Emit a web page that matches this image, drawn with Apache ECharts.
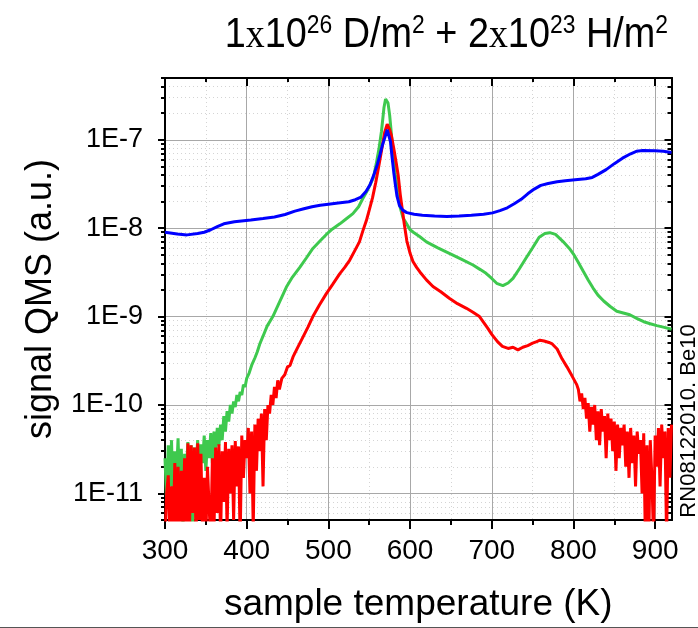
<!DOCTYPE html>
<html><head><meta charset="utf-8">
<script src="https://cdn.jsdelivr.net/npm/echarts@6/dist/echarts.min.js"></script>
<style>html,body{margin:0;padding:0;background:#fff}#c{width:698px;height:628px}</style>
</head><body><div id="c"></div>
<script>
// ---- data (temperature K, QMS signal a.u.) ----
const blueTemps = [300,315,327,340,348,356,364,372,385,405,420,434,447,459,470,480,490,500,512,525,533,540,546,551,556,560,563,566,569,572,574,576,578,580,582,584,587,591,596,605,615,630,645,660,675,690,701,710,719,728,736,744,752,760,769,780,790,802,815,823,830,840,850,860,870,877,885,900,910,920];
const blueSignal = [9.0e-9,8.6e-9,8.4e-9,8.7e-9,9.0e-9,9.6e-9,1.04e-8,1.12e-8,1.18e-8,1.24e-8,1.29e-8,1.34e-8,1.43e-8,1.56e-8,1.66e-8,1.75e-8,1.82e-8,1.87e-8,1.93e-8,1.99e-8,2.1e-8,2.25e-8,2.6e-8,3.1e-8,4.1e-8,5.3e-8,6.7e-8,8.6e-8,1.05e-7,1.3e-7,1.28e-7,9.5e-8,6.3e-8,4.3e-8,3.1e-8,2.3e-8,1.8e-8,1.6e-8,1.5e-8,1.44e-8,1.4e-8,1.37e-8,1.36e-8,1.37e-8,1.4e-8,1.44e-8,1.49e-8,1.58e-8,1.7e-8,1.9e-8,2.12e-8,2.45e-8,2.77e-8,3.05e-8,3.2e-8,3.35e-8,3.45e-8,3.53e-8,3.62e-8,3.75e-8,4.06e-8,4.6e-8,5.37e-8,6.2e-8,6.95e-8,7.4e-8,7.55e-8,7.5e-8,7.4e-8,7.2e-8];

const greenTemps = [300,302,304,306,308,310,312,314,316,318,320,322,324,326,328,330,332,334,336,338,340,342,344,346,348,350,352,354,356,358,360,362,364,366,368,370,372,374,376,378,380,382,384,386,388,390,392,394,396,398,400,403,406,410,413,416,420,425,432,440,448.6,456,465,473,481,490,497.5,505,514,522,530,537,542,547,551,555,558.5,562,565,568,570,571.5,573,575,577,579,582,585,588,591.5,595,600,604,612,620,634,648,662,677,686,693,700,706,713.6,720,726,734,742,750,758,765,771,778,787,795,800,806,812,818,824,830,837,845,853,861,869,878,886,894,902,910,920];
const greenSignal = [2.5e-11,8e-12,3.5e-11,1.2e-11,4e-11,6e-12,3e-11,1.5e-11,4.2e-11,9e-12,3.2e-11,4e-12,2.8e-11,1.6e-11,3.8e-11,1.1e-11,3.5e-11,3e-12,3.3e-11,2e-11,4e-11,1.4e-11,3.6e-11,2.2e-11,4.5e-11,1.8e-11,4e-11,2.5e-11,4.8e-11,2.2e-11,5e-11,3e-11,5.5e-11,3.5e-11,6e-11,4e-11,7.5e-11,5e-11,8.5e-11,6.5e-11,1e-10,8e-11,1.1e-10,9.5e-11,1.3e-10,1.1e-10,1.4e-10,1.3e-10,1.7e-10,1.6e-10,2e-10,2.3e-10,2.8e-10,3.4e-10,4e-10,4.9e-10,6e-10,7.8e-10,1e-9,1.45e-9,2.16e-9,2.8e-9,3.6e-9,4.6e-9,5.9e-9,7.2e-9,8.5e-9,9.8e-9,1.12e-8,1.28e-8,1.46e-8,1.75e-8,2.15e-8,2.6e-8,3.1e-8,3.7e-8,5.3e-8,8e-8,1.25e-7,2.3e-7,2.9e-7,3.0e-7,2.6e-7,1.9e-7,1.2e-7,7.3e-8,4e-8,2.5e-8,1.7e-8,1.3e-8,1.15e-8,9.6e-9,9e-9,8e-9,7e-9,6e-9,5.2e-9,4.5e-9,3.83e-9,3.4e-9,3.09e-9,2.7e-9,2.38e-9,2.24e-9,2.4e-9,2.71e-9,3.5e-9,4.6e-9,6e-9,7.9e-9,8.7e-9,8.9e-9,8.5e-9,7.1e-9,5.9e-9,5.1e-9,4.1e-9,3.25e-9,2.6e-9,2.1e-9,1.75e-9,1.5e-9,1.3e-9,1.15e-9,1.1e-9,1.05e-9,9.5e-10,8.75e-10,8.3e-10,7.9e-10,7.6e-10,7.2e-10];

const redTemps = [300,302,304,306,308,310,312,314,316,318,320,322,324,326,328,330,332,334,336,338,340,342,344,346,348,350,352,354,356,358,360,362,364,366,368,370,372,374,376,378,380,382,384,386,388,390,392,394,396,398,400,402,404,406,408,410,412,414,416,418,420,422,424,426,428,430,432,434,436,438,440,443,446.6,450,453,456.7,462,469,475,481,489,497.5,505,514,520,526,532,538,542,546.5,550,554,558,562.6,566,569,572,575,577,580,583,585.4,588,591,593,596,600,603.5,608,612,620,628,638,648,658,669,677,685,690,695,700,707,713,720,726,732,738,744,750,755,759,764,770,774,780,786,792,798,804,806,808,810,812,814,816,818,820,822,824,826,828,830,832,834,836,838,840,842,844,846,848,850,852,854,856,858,860,862,864,866,868,870,872,874,876,878,880,882,884,886,888,890,892,894,896,898,900,902,904,906,908,910,912,914,916,918,920];
const redSignal = [3e-12,1e-11,1.6e-11,3e-12,1.2e-11,3e-12,2.2e-11,4e-12,2e-11,3e-12,1.8e-11,4e-12,2.5e-11,3e-12,3.7e-11,4e-12,3.5e-11,6e-12,3.3e-11,3e-12,3.7e-11,5e-12,2.8e-11,3e-12,1.5e-11,3e-12,2e-11,7e-12,3e-12,2.5e-11,4e-12,3.3e-11,6e-12,3.6e-11,3e-12,3e-11,8e-12,3.8e-11,4e-12,3.2e-11,1e-11,3.5e-11,5e-12,3.9e-11,1.2e-11,3.4e-11,3e-12,4.5e-11,1.5e-11,4e-11,2.5e-11,5.5e-11,1e-11,5e-11,4e-12,6e-11,1.8e-11,7e-11,3e-11,8e-11,1.2e-11,9e-11,4e-11,1e-10,8e-11,1.3e-10,1e-10,1.6e-10,1.2e-10,1.9e-10,1.5e-10,2e-10,2.2e-10,2.7e-10,2.8e-10,3.5e-10,4.4e-10,5.9e-10,7.6e-10,1e-9,1.35e-9,1.82e-9,2.3e-9,3.06e-9,3.6e-9,4.33e-9,5.5e-9,7e-9,9.2e-9,1.22e-8,1.6e-8,2.2e-8,3.3e-8,5.6e-8,8.5e-8,1.23e-7,1.5e-7,1.3e-7,1.13e-7,8e-8,5.5e-8,4e-8,2.4e-8,1.5e-8,1.1e-8,7.2e-9,5.2e-9,4.2e-9,3.6e-9,3.2e-9,2.6e-9,2.19e-9,1.9e-9,1.61e-9,1.4e-9,1.24e-9,1.12e-9,1e-9,8.6e-10,7.4e-10,6.3e-10,5.2e-10,4.6e-10,4.36e-10,4.5e-10,4.2e-10,4.5e-10,4.7e-10,5e-10,5.2e-10,5.4e-10,5.3e-10,5.1e-10,4.9e-10,4.3e-10,3.33e-10,2.7e-10,2.15e-10,1.7e-10,1.5e-10,1.1e-10,1.35e-10,9e-11,1.2e-10,7e-11,1.05e-10,5e-11,9.5e-11,6e-11,1e-10,4e-11,8.5e-11,3.5e-11,9e-11,5e-11,7.5e-11,2.5e-11,8e-11,4e-11,7e-11,3e-11,6.5e-11,1.8e-11,6e-11,2.5e-11,5.5e-11,3.5e-11,6e-11,2e-11,5e-11,1.5e-11,5.5e-11,2.2e-11,4.5e-11,1.2e-11,5e-11,2.8e-11,4e-11,1e-11,4.8e-11,3e-12,3.5e-11,2e-12,4e-11,1.5e-11,3e-12,4.5e-11,2e-11,5.5e-11,1.2e-11,6e-11,2.5e-11,5e-11,3e-12,5.5e-11,1.5e-11,6e-11];

// ---- axes ticks / labels ----
const xMajorTicks = [300,400,500,600,700,800,900];
const xMinorTicks = [350,450,550,650,750,850];
const yMajorTicks = [1e-11,1e-10,1e-9,1e-8,1e-7];
const yMinorTicks = [5e-12,6e-12,7e-12,8e-12,9e-12,
  2e-11,3e-11,4e-11,5e-11,6e-11,7e-11,8e-11,9e-11,
  2e-10,3e-10,4e-10,5e-10,6e-10,7e-10,8e-10,9e-10,
  2e-9,3e-9,4e-9,5e-9,6e-9,7e-9,8e-9,9e-9,
  2e-8,3e-8,4e-8,5e-8,6e-8,7e-8,8e-8,9e-8,
  2e-7,3e-7,4e-7,5e-7];
const yTickLabels = ['1E-11','1E-10','1E-9','1E-8','1E-7'];

const titleText = '{n|1}{x|x}{n|10}{s|26}{n| D/m}{s|2}{n| + 2}{x|x}{n|10}{s|23}{n| H/m}{s|2}';
const xName = 'sample temperature (K)';
const yName = 'signal QMS (a.u.)';
const sideNote = 'RN08122010. Be10';

const FONT = 'Liberation Sans, Arial, sans-serif';
const zip = (a, b) => a.map((t, i) => [t, b[i]]);

const chart = echarts.init(document.getElementById('c'), null, {renderer: 'canvas'});
const axisLineStyle = {color: '#000', width: 2};
const xRange = {min: 300, max: 920, interval: 100};
const yRange = {min: 5e-12, max: 5e-7, logBase: 10};

function xAx(extra) {
  return Object.assign({type: 'value', gridIndex: 0, ...xRange,
    axisLine: {show: true, onZero: false, lineStyle: axisLineStyle},
    axisLabel: {show: false}, splitLine: {show: false}, minorTick: {show: false}}, extra);
}
function yAx(extra) {
  return Object.assign({type: 'log', gridIndex: 0, ...yRange,
    axisLine: {show: true, onZero: false, lineStyle: axisLineStyle},
    axisLabel: {show: false}, splitLine: {show: false}, minorTick: {show: false}}, extra);
}

const option = {
  animation: false,
  backgroundColor: '#fff',
  grid: {left: 165, top: 78, right: 26.5, bottom: 107.3, containLabel: false},
  xAxis: [
    xAx({position: 'bottom',
      axisTick: {show: true, customValues: xMajorTicks, length: 9, inside: false, lineStyle: {color: '#000', width: 2}},
      axisLabel: {show: true, customValues: xMajorTicks, fontSize: 28, fontFamily: FONT, color: '#000', margin: 17},
      splitLine: {show: true, lineStyle: {color: '#a8a8a8', width: 1}},
      name: xName, nameLocation: 'middle', nameGap: 66,
      nameTextStyle: {fontSize: 37, fontFamily: FONT, color: '#000'}}),
    xAx({position: 'bottom',
      axisTick: {show: true, customValues: xMinorTicks, length: 5, inside: false, lineStyle: {color: '#000', width: 2}},
      splitLine: {show: true, lineStyle: {color: '#d4d4d4', width: 1, type: [1, 3]}}}),
    xAx({position: 'top',
      axisTick: {show: true, customValues: xMajorTicks, length: 8, inside: true, lineStyle: {color: '#000', width: 2}}}),
    xAx({position: 'top',
      axisTick: {show: true, customValues: xMinorTicks, length: 4, inside: true, lineStyle: {color: '#000', width: 2}}})
  ],
  yAxis: [
    yAx({position: 'left',
      axisTick: {show: true, customValues: yMajorTicks, length: 7, inside: false, lineStyle: {color: '#000', width: 2}},
      axisLabel: {show: true, customValues: yMajorTicks, fontSize: 27, fontFamily: FONT, color: '#000', margin: 22,
        formatter: v => yTickLabels[yMajorTicks.findIndex(t => Math.abs(Math.log10(t) - Math.log10(v)) < 0.01)] || ''},
      splitLine: {show: true, lineStyle: {color: '#a8a8a8', width: 1}},
      name: yName, nameLocation: 'middle', nameGap: 106, nameRotate: 90,
      nameTextStyle: {fontSize: 36, fontFamily: FONT, color: '#000'}}),
    yAx({position: 'left',
      axisTick: {show: true, customValues: yMinorTicks, length: 4, inside: false, lineStyle: {color: '#000', width: 2}},
      splitLine: {show: true, lineStyle: {color: '#d4d4d4', width: 1, type: [1, 3]}}}),
    yAx({position: 'right',
      axisTick: {show: true, customValues: yMajorTicks, length: 7, inside: true, lineStyle: {color: '#000', width: 2}}}),
    yAx({position: 'right',
      axisTick: {show: true, customValues: yMinorTicks, length: 4, inside: true, lineStyle: {color: '#000', width: 2}}})
  ],
  series: [
    {name: 'green', type: 'line', xAxisIndex: 0, yAxisIndex: 0, data: zip(greenTemps, greenSignal),
      showSymbol: false, symbol: 'none', lineStyle: {color: '#3ec94e', width: 3}, itemStyle: {color: '#3ec94e'}},
    {name: 'red', type: 'line', xAxisIndex: 0, yAxisIndex: 0, data: zip(redTemps, redSignal),
      showSymbol: false, symbol: 'none', lineStyle: {color: '#ff0000', width: 3}, itemStyle: {color: '#ff0000'}},
    {name: 'blue', type: 'line', xAxisIndex: 0, yAxisIndex: 0, data: zip(blueTemps, blueSignal),
      showSymbol: false, symbol: 'none', lineStyle: {color: '#0000ff', width: 3}, itemStyle: {color: '#0000ff'}}
  ],
  graphic: [
    {type: 'text', x: 668, y: 13, scaleX: 0.88, scaleY: 1,
      style: {
        text: titleText, align: 'right', verticalAlign: 'top', fill: '#000',
        font: '43px ' + FONT,
        rich: {
          n: {fontSize: 43, fontFamily: FONT, fill: '#000', lineHeight: 44, verticalAlign: 'bottom'},
          x: {fontSize: 43, fontFamily: 'Liberation Serif, Times New Roman, serif', fill: '#000', lineHeight: 44, verticalAlign: 'bottom'},
          s: {fontSize: 26, fontFamily: FONT, fill: '#000', lineHeight: 44, verticalAlign: 'top'}
        }
      }},
    {type: 'text', x: 689, y: 421, rotation: Math.PI / 2,
      style: {text: sideNote, font: '22px ' + FONT, fill: '#000', align: 'center', verticalAlign: 'middle'}},
    {type: 'line', shape: {x1: 0, y1: 627.5, x2: 698, y2: 627.5}, style: {stroke: '#555', lineWidth: 1}}
  ]
};
chart.setOption(option);
</script>
</body></html>
